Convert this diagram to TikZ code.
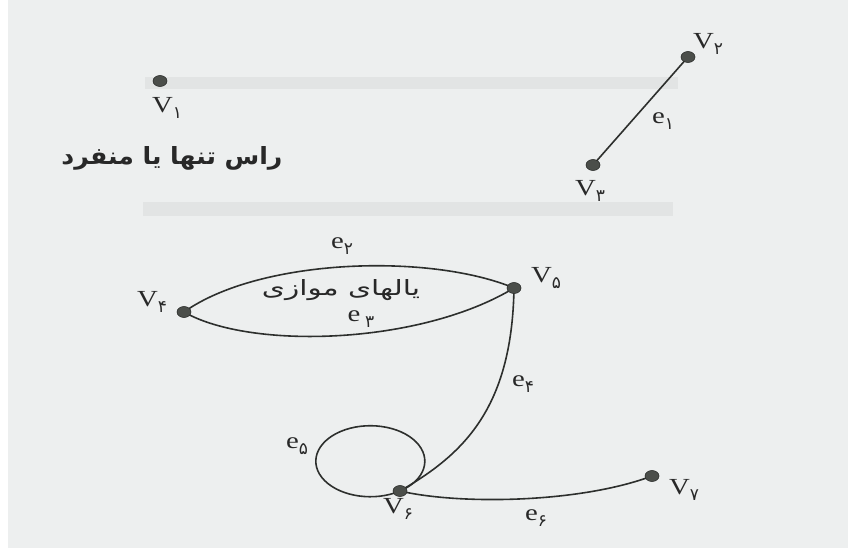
\documentclass[tikz,border=0pt]{standalone}
\usepackage{fontspec}
\setmainfont{Liberation Serif}
\newfontfamily\pfont[Script=Arabic]{DejaVu Sans}
\TeXXeTstate=1
\usetikzlibrary{shapes.geometric,backgrounds}
\definecolor{paper}{RGB}{237,239,239}
\definecolor{band}{RGB}{226,228,228}
\definecolor{linec}{RGB}{45,47,45}
\definecolor{dotc}{RGB}{75,78,74}
\definecolor{textc}{RGB}{40,40,40}
\newcommand\vlab[2]{\scalebox{1.25}[1]{#1}\raisebox{-6pt}{\pfont\fontsize{17}{17}\selectfont #2}}
\tikzset{
  vtx/.style={ellipse, fill=dotc, draw=linec, line width=0.6pt, minimum width=14pt, minimum height=11pt, inner sep=0pt},
  edgeline/.style={draw=linec, line width=1.6pt},
  lbl/.style={text=textc, font=\fontsize{23}{23}\selectfont, inner sep=0pt},
  ptext/.style={text=textc, inner sep=0pt},
}
\begin{document}
\begin{tikzpicture}[x=1pt,y=-1pt]
\useasboundingbox (0,0) rectangle (848,548);
% vertices
\node[vtx] (V1) at (160,81) {};
\node[vtx] (V2) at (688,57) {};
\node[vtx] (V3) at (593,165) {};
\node[vtx] (V4) at (184,312) {};
\node[vtx] (V5) at (514,288) {};
\node[vtx] (V6) at (400,491) {};
\node[vtx] (V7) at (652,476) {};
\begin{pgfonlayer}{background}
  \fill[paper] (0,0) rectangle (848,548);
  \fill[white] (0,0) rectangle (8,548);
  \fill[band] (145,77) rectangle (678,89);
  \fill[band] (143,202) rectangle (673,216);
  % edges
  \draw[edgeline] (V2.center) -- (V3.center);
  \draw[edgeline] (V4.center) .. controls (260,258) and (430,253) .. (V5.center);
  \draw[edgeline] (V4.center) .. controls (250,350) and (420,345) .. (V5.center);
  \draw[edgeline] (V5.center) .. controls (512,410) and (462,455) .. (V6.center);
  \draw[edgeline] (V6.center) arc[start angle=-57, end angle=303, x radius=54.5pt, y radius=35.5pt];
  \draw[edgeline] (V6.center) .. controls (460,505) and (580,503) .. (V7.center);
\end{pgfonlayer}
% labels
\node[lbl] (l1) at (167,108) {\vlab{V}{۱}};
\node[lbl] (l2) at (708,44) {\vlab{V}{۲}};
\node[lbl] (l3) at (590,191) {\vlab{V}{۳}};
\node[lbl] (l4) at (152,302) {\vlab{V}{۴}};
\node[lbl] (l5) at (546,278) {\vlab{V}{۵}};
\node[lbl] (l6) at (398,509) {\vlab{V}{۶}};
\node[lbl] (l7) at (684,490) {\vlab{V}{۷}};
\node[lbl] (e1) at (663,121) {\vlab{e}{۱}};
\node[lbl] (e2) at (342,246) {\vlab{e}{۲}};
\node[lbl] (e3) at (361,319) {\vlab{e\,}{۳}};
\node[lbl] (e4) at (523,384) {\vlab{e}{۴}};
\node[lbl] (e5) at (297,446) {\vlab{e}{۵}};
\node[lbl] (e6) at (536,518) {\vlab{e}{۶}};
\node[ptext] (t1) at (172,158) {\resizebox{221pt}{18pt}{\pfont\bfseries\beginR راس تنها یا منفرد\endR}};
\node[ptext] (t2) at (341,290) {\resizebox{158pt}{16pt}{\pfont\beginR یالهای موازی\endR}};
\end{tikzpicture}
\end{document}
